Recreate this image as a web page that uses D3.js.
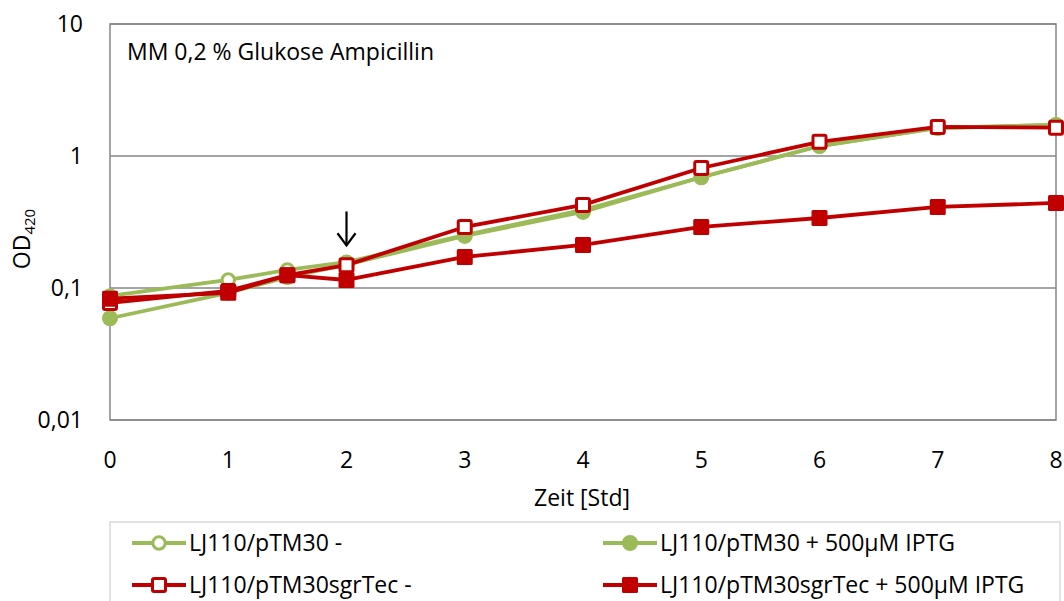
<!DOCTYPE html>
<html>
<head>
<meta charset="utf-8">
<script src="https://cdn.jsdelivr.net/npm/d3@7"></script>
<style>
  body { margin: 0; background: #fff; overflow: hidden; }
  text { font-family: "Open Sans", Lato, sans-serif; fill: #000; }
</style>
</head>
<body>
<div id="chart"></div>
<script>
// time points (hours)
const hours = [0, 1, 1.5, 2, 3, 4, 5, 6, 7, 8];

// OD420 values per strain
const pTM30 = [0.087, 0.115, 0.137, 0.157, 0.252, 0.39, 0.69, 1.19, 1.63, 1.72];
const pTM30Iptg = [0.059, 0.092, 0.121, 0.150, 0.248, 0.377, 0.69, 1.19, 1.63, 1.72];
const sgrTec = [0.077, 0.095, 0.125, 0.149, 0.29, 0.426, 0.811, 1.28, 1.66, 1.64];
const sgrTecIptg = [0.083, 0.092, 0.125, 0.115, 0.172, 0.212, 0.29, 0.339, 0.411, 0.441];

const seriesNames = ["LJ110/pTM30 -", "LJ110/pTM30 + 500µM IPTG", "LJ110/pTM30sgrTec -", "LJ110/pTM30sgrTec + 500µM IPTG"];
const yTicks = [0.01, 0.1, 1, 10];
const xTicks = [0, 1, 2, 3, 4, 5, 6, 7, 8];

const green = "#9BBB59", red = "#C00000";
const series = [
    { name: seriesNames[0], values: pTM30, color: green, shape: "circle", filled: false },
    { name: seriesNames[1], values: pTM30Iptg, color: green, shape: "circle", filled: true },
    { name: seriesNames[2], values: sgrTec, color: red, shape: "square", filled: false },
    { name: seriesNames[3], values: sgrTecIptg, color: red, shape: "square", filled: true }
];

const width = 1064, height = 601;
const margin = { top: 24, right: 8, bottom: 181, left: 110 };
const plotBottom = height - margin.bottom;
const plotRight = width - margin.right;
const fontSize = "23px";

const svg = d3.select("#chart").append("svg")
    .attr("width", width)
    .attr("height", height);

// scales map straight to page coordinates
const x = d3.scaleLinear().domain([0, 8]).range([margin.left, plotRight]);
const y = d3.scaleLog().domain([0.01, 10]).range([plotBottom, margin.top]);
const fmt = d => String(d).replace(".", ",");

// gridlines
svg.selectAll(".grid")
    .data(yTicks)
    .enter().append("line")
    .attr("x1", margin.left).attr("x2", plotRight)
    .attr("y1", d => y(d)).attr("y2", d => y(d))
    .attr("stroke", "#868686").attr("stroke-width", 1.3);

// frame
svg.append("rect")
    .attr("x", margin.left).attr("y", margin.top)
    .attr("width", plotRight - margin.left).attr("height", plotBottom - margin.top)
    .attr("fill", "none").attr("stroke", "#868686").attr("stroke-width", 1.5);

// y labels
svg.selectAll(".ylab")
    .data(yTicks)
    .enter().append("text")
    .attr("x", margin.left - 27).attr("y", d => y(d)).attr("dy", "0.35em")
    .attr("text-anchor", "end").style("font-size", fontSize)
    .text(fmt);

// x labels
svg.selectAll(".xlab")
    .data(xTicks)
    .enter().append("text")
    .attr("x", d => x(d)).attr("y", plotBottom + 48)
    .attr("text-anchor", "middle").style("font-size", fontSize)
    .text(d => d);

// axis titles
svg.append("text")
    .attr("x", (margin.left + plotRight) / 2 - 1).attr("y", plotBottom + 86)
    .attr("text-anchor", "middle").style("font-size", fontSize)
    .text("Zeit [Std]");

const yTitle = svg.append("text")
    .attr("transform", `translate(${margin.left - 80},${y(0.235)}) rotate(-90)`)
    .attr("text-anchor", "middle").style("font-size", fontSize);
yTitle.append("tspan").text("OD");
yTitle.append("tspan").attr("dy", 5).style("font-size", "15px").text("420");

svg.append("text")
    .attr("x", margin.left + 17).attr("y", margin.top + 36)
    .style("font-size", fontSize)
    .text("MM 0,2 % Glukose Ampicillin");

// lines
const line = d3.line()
    .x((d, i) => x(hours[i]))
    .y(d => y(d));

function drawMarker(sel, s, cx, cy) {
    if (s.shape === "circle") {
        sel.append("circle")
            .attr("cx", cx).attr("cy", cy)
            .attr("r", s.filled ? 8 : 6.2)
            .attr("fill", s.filled ? s.color : "#fff")
            .attr("stroke", s.color).attr("stroke-width", s.filled ? 0 : 3);
    } else {
        const sz = s.filled ? 16 : 13;
        sel.append("rect")
            .attr("x", cx - sz / 2).attr("y", cy - sz / 2)
            .attr("width", sz).attr("height", sz).attr("rx", 1.5)
            .attr("fill", s.filled ? s.color : "#fff")
            .attr("stroke", s.color).attr("stroke-width", s.filled ? 0 : 3);
    }
}

series.forEach(s => {
    svg.append("path")
        .datum(s.values)
        .attr("fill", "none")
        .attr("stroke", s.color)
        .attr("stroke-width", 3.8)
        .attr("stroke-linejoin", "round")
        .attr("d", line);
    const mg = svg.append("g");
    s.values.forEach((v, i) => drawMarker(mg, s, x(hours[i]), y(v)));
});

// arrow marking IPTG addition at 2 h
const arrowX = x(2);
const arrow = svg.append("g").attr("stroke", "#000").attr("stroke-width", 2.2).attr("fill", "none");
arrow.append("line").attr("x1", arrowX).attr("x2", arrowX).attr("y1", y(0.38)).attr("y2", y(0.21));
arrow.append("polyline")
    .attr("points", `${arrowX - 9},${y(0.26)} ${arrowX},${y(0.21)} ${arrowX + 9},${y(0.26)}`);

// legend (box runs past the bottom edge, as in the original)
const legendLeft = 110, legendTop = 522;
svg.append("rect")
    .attr("x", legendLeft).attr("y", legendTop)
    .attr("width", 950).attr("height", 90)
    .attr("fill", "#fff").attr("stroke", "#d9d9d9").attr("stroke-width", 1.5);

const legendPos = [[22, 21], [493, 21], [22, 63], [493, 63]];
series.forEach((s, i) => {
    const lx = legendLeft + legendPos[i][0], ly = legendTop + legendPos[i][1];
    svg.append("line")
        .attr("x1", lx).attr("x2", lx + 54).attr("y1", ly).attr("y2", ly)
        .attr("stroke", s.color).attr("stroke-width", 3.8);
    drawMarker(svg, s, lx + 27, ly);
    svg.append("text")
        .attr("x", lx + 57).attr("y", ly).attr("dy", "0.35em")
        .style("font-size", fontSize)
        .text(s.name);
});
</script>
</body>
</html>
